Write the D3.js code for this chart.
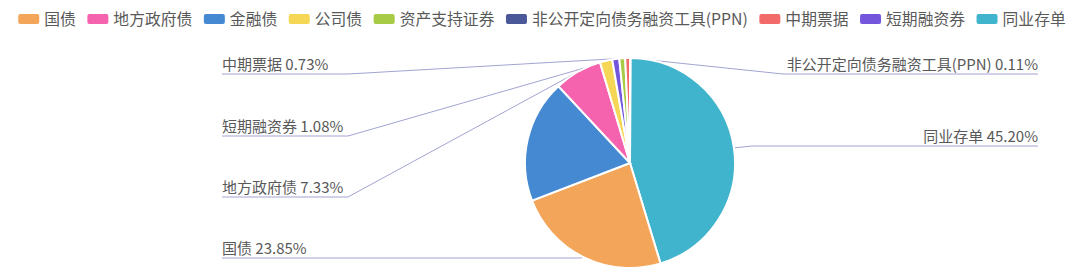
<!DOCTYPE html>
<html>
<head>
<meta charset="utf-8">
<script src="https://cdn.jsdelivr.net/npm/d3@7"></script>
<style>
  body { margin: 0; background: #fff; }
  svg { display: block; font-family: "Noto Sans CJK SC", "Noto Sans", sans-serif; }
</style>
</head>
<body>
<script>
// categories in legend order
var names = ["国债", "地方政府债", "金融债", "公司债", "资产支持证券",
             "非公开定向债务融资工具(PPN)", "中期票据", "短期融资券", "同业存单"];
// share of holdings, percent
var shares = [23.85, 7.33, 18.90, 1.90, 0.90, 0.11, 0.73, 1.08, 45.20];
var colors = ["#f3a55a", "#f562ad", "#4589d3", "#f5d755", "#a8cb45",
              "#4a5899", "#f26a6a", "#7356db", "#40b4cc"];
// order the slices are drawn in, clockwise from 12 o'clock
var sliceOrder = ["非公开定向债务融资工具(PPN)", "同业存单", "国债", "金融债", "地方政府债",
                  "公司债", "短期融资券", "资产支持证券", "中期票据"];

// which labels are shown and where they sit (the rest are hidden by overlap)
var labelLayout = [
  {name: "非公开定向债务融资工具(PPN)", side: "right", lineY: 74,  turnX: 783},
  {name: "同业存单",   side: "right", lineY: 146, turnX: 752},
  {name: "中期票据",   side: "left",  lineY: 74,  turnX: 348},
  {name: "短期融资券", side: "left",  lineY: 136, turnX: 348},
  {name: "地方政府债", side: "left",  lineY: 197, turnX: 348},
  {name: "国债",       side: "left",  lineY: 258, turnX: 580}
];

var width = 1080, height = 279;
var cx = 630, cy = 163, radius = 105;
var leftEdge = 222, rightEdge = 1038;

var color = d3.scaleOrdinal().domain(names).range(colors);
var shareOf = {};
names.forEach(function(n, i){ shareOf[n] = shares[i]; });

var svg = d3.select("body").append("svg")
    .attr("width", width)
    .attr("height", height);

//legend, centred along the top
var legend = svg.append("g").attr("class", "legend");
var itemGap = 11.5;
var lx = 0;
names.forEach(function(n){
    var item = legend.append("g").attr("transform", "translate(" + lx + ",0)");
    item.append("rect")
        .attr("x", 0).attr("y", 14)
        .attr("width", 21).attr("height", 10)
        .attr("rx", 2)
        .attr("fill", color(n));
    var t = item.append("text")
        .attr("x", 26).attr("y", 19)
        .attr("dy", "0.35em")
        .attr("font-size", 15.8)
        .attr("fill", "#595959")
        .text(n);
    lx += 26 + t.node().getComputedTextLength() + itemGap;
});
var legendWidth = lx - itemGap;
legend.attr("transform", "translate(" + (542 - legendWidth / 2) + ",0)");

var pie = d3.pie().sort(null).value(function(d){ return d.value; });
var arcs = pie(sliceOrder.map(function(n){ return {name: n, value: shareOf[n]}; }));
var arc = d3.arc().innerRadius(0).outerRadius(radius);

var chart = svg.append("g");

//label lines go underneath the slices
var lines = chart.append("g").attr("class", "label-lines");
var labels = chart.append("g").attr("class", "labels");

labelLayout.forEach(function(l){
    var a = arcs.find(function(d){ return d.data.name === l.name; });
    var mid = (a.startAngle + a.endAngle) / 2;
    var p0 = [cx + radius * Math.sin(mid), cy - radius * Math.cos(mid)];
    var endX = l.side === "left" ? leftEdge : rightEdge;
    lines.append("polyline")
        .attr("points", [p0, [l.turnX, l.lineY], [endX, l.lineY]].map(function(p){ return p.join(","); }).join(" "))
        .attr("fill", "none")
        .attr("stroke", "#a2a4d2")
        .attr("stroke-width", 1);
    labels.append("text")
        .attr("x", endX)
        .attr("y", l.lineY - 4)
        .attr("text-anchor", l.side === "left" ? "start" : "end")
        .attr("font-size", 15)
        .attr("fill", "#595959")
        .text(l.name + " " + shareOf[l.name].toFixed(2) + "%");
});

var slices = chart.append("g")
    .attr("transform", "translate(" + cx + "," + cy + ")");
slices.selectAll("path")
    .data(arcs)
    .enter()
    .append("path")
    .attr("d", arc)
    .attr("fill", function(d){ return color(d.data.name); })
    .attr("stroke", "#fff")
    .attr("stroke-width", 2);

labels.raise();
</script>
</body>
</html>
